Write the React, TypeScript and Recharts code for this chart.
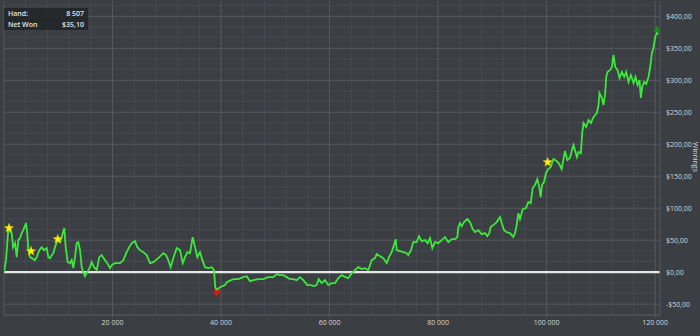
import {
  ComposedChart,
  Line,
  Scatter,
  XAxis,
  YAxis,
  ReferenceLine,
} from "recharts";

// hands played (x) and net winnings in $ (y)
const hands = [
  0, 370, 790, 1420, 1660, 2030, 2340, 2640, 2950, 3260,
  3560, 4060, 4290, 4480, 4790, 5110, 5710, 6030, 6510, 6950,
  7370, 7870, 8170, 8480, 8790, 9090, 9400, 9900, 10320, 10630,
  11110, 11370, 11740, 12160, 12480, 12770, 13090, 13400, 13690, 14010,
  14320, 14620, 14930, 15350, 15850, 16160, 16590, 17090, 17560, 18010,
  18610, 19040, 19540, 19850, 20460, 21380, 21990, 22610, 23090, 23540,
  24140, 24570, 25070, 25670, 26300, 26910, 27520, 28440, 29360, 29860,
  30280, 30720, 31200, 31830, 32440, 32940, 33360, 33780, 34280, 34780,
  35200, 35630, 36120, 36440, 37040, 37650, 38280, 38700, 38940, 39200,
  39810, 40730, 41040, 42260, 43180, 44100, 44730, 45340, 45950, 46870,
  47790, 48710, 49630, 50260, 50870, 51480, 52100, 52710, 53320, 53950,
  54550, 55160, 55900, 56530, 57130, 57630, 58000, 58550, 59160, 59770,
  60400, 61000, 61610, 62240, 62850, 63450, 64080, 64690, 65300, 65920,
  66530, 67140, 67770, 68380, 68690, 69300, 69910, 70530, 70960, 71450,
  71750, 72190, 72380, 72980, 73590, 74220, 74510, 75010, 75430, 76060,
  76490, 76980, 77590, 78090, 78510, 78940, 79430, 80040, 80670, 81280,
  81880, 82510, 83120, 83540, 83730, 84040, 84350, 84780, 85390, 85880,
  86380, 86810, 87410, 88040, 88650, 89070, 89440, 89700, 90180, 90810,
  91410, 91730, 92150, 92650, 93260, 93860, 94180, 94490, 94790, 95100,
  95600, 96210, 96630, 97070, 97440, 97860, 98290, 98660, 98910, 99150,
  99520, 99890, 100310, 100760, 101240, 101860, 102340, 102780, 103080, 103390,
  103820, 104310, 104670, 104960, 105590, 105880, 106320, 106560, 106800, 107300,
  107730, 108170, 108650, 109270, 109570, 109750, 110190, 110490, 110800, 110990,
  111230, 111720, 112040, 112330, 112650, 113070, 113440, 113880, 114300, 114670,
  115100, 115540, 116020, 116390, 116760, 117120, 117380, 117620, 117990, 118360,
  118780, 119100, 119410, 119700, 120020, 120330, 120630,
];

const won = [
  0, 18.8, 65.7, 61.0, 39.1, 45.4, 23.5, 50.1, 53.2, 61.0,
  65.7, 76.7, 61.0, 34.4, 23.5, 21.9, 18.8, 23.5, 34.4, 39.1,
  34.4, 37.6, 23.5, 21.9, 26.6, 29.7, 39.1, 50.1, 47.0, 54.8,
  68.9, 39.1, 15.7, 14.1, 18.8, 6.3, 23.5, 45.4, 47.0, 34.4,
  7.8, 0, -6.3, 0, 7.8, 15.7, 7.8, 3.1, 23.5, 26.6,
  18.8, 14.1, 6.3, 11.0, 14.1, 14.1, 18.8, 31.3, 39.1, 45.4,
  48.5, 39.1, 34.4, 31.3, 26.6, 14.1, 15.7, 21.9, 29.7, 26.6,
  18.8, 7.8, 21.9, 37.6, 34.4, 14.1, 23.5, 31.3, 29.7, 54.8,
  39.1, 23.5, 31.3, 21.9, 7.8, 6.3, 7.8, 3.1, -23.5, -28.2,
  -23.5, -20.3, -15.7, -11.0, -11.0, -7.8, -6.3, -14.1, -12.5, -11.0,
  -11.0, -7.8, -7.8, -3.1, -4.7, -4.7, -7.8, -11.0, -11.0, -12.5,
  -7.8, -12.5, -20.3, -20.3, -21.9, -20.3, -11.0, -17.2, -12.5, -20.3,
  -17.2, -17.2, -9.4, -4.7, -7.4, -9.4, -1.6, 3.1, 7.8, 4.7,
  6.3, 3.1, 18.8, 21.9, 28.2, 25.0, 21.9, 14.1, 23.5, 31.3,
  39.1, 51.6, 34.4, 32.9, 31.3, 29.7, 26.6, 34.4, 47.0, 47.0,
  56.3, 48.5, 50.1, 45.4, 53.2, 37.6, 47.0, 45.4, 50.1, 54.8,
  47.0, 51.6, 51.6, 54.8, 70.4, 76.7, 72.0, 78.3, 82.9, 78.3,
  67.3, 62.6, 65.7, 59.5, 61.0, 56.3, 61.0, 70.4, 73.6, 78.3,
  86.1, 76.7, 65.7, 62.6, 61.0, 54.8, 61.0, 73.6, 92.3, 82.9,
  98.6, 100.2, 109.6, 108.0, 131.5, 136.2, 145.5, 133.0, 117.4, 136.2,
  140.9, 154.9, 161.2, 164.3, 176.8, 173.7, 169.0, 161.2, 175.3, 189.4,
  175.3, 178.4, 190.9, 198.8, 180.0, 187.8, 186.2, 217.5, 233.2, 226.9,
  237.9, 233.2, 242.6, 248.8, 261.4, 280.1, 272.3, 261.4, 280.1, 305.2,
  313.0, 316.1, 320.8, 339.6, 320.8, 316.1, 303.6, 313.0, 305.2, 313.0,
  297.4, 308.3, 295.8, 305.2, 292.7, 300.5, 272.3, 289.5, 297.4, 294.2,
  305.2, 320.8, 342.7, 350.6, 367.8, 374.0, 372.5,
];

// star markers (big hands)
const starHands = [920, 4980, 9900, 100200];
const starWon = [68.9, 32.9, 51.6, 172];

const lowPoint = { hand: 39200, won: -28.2 };
const highPoint = { hand: 120330, won: 374.0 };

const xTicks = [20000, 40000, 60000, 80000, 100000, 120000];
const yTicks = [-50, 0, 50, 100, 150, 200, 250, 300, 350, 400];

const data = hands.map((h, i) => ({ hand: h, won: won[i] }));
const stars = starHands.map((h, i) => ({ hand: h, won: starWon[i] }));

const BG = "#3b3e42";
const MAJOR = "#565a5f";
const MINOR = "#474a4f";
const TEXT = "#d4d6d9";
const FONT = "'Open Sans', 'Liberation Sans', sans-serif";

const minorX: number[] = [];
for (let v = 4000; v < 121000; v += 4000) if (v % 20000 !== 0) minorX.push(v);
const minorY: number[] = [];
for (let k = -4; k <= 25; k++) if (k % 3 !== 0) minorY.push((k * 50) / 3);

const fmtHands = (v: number) =>
  String(v).replace(/\B(?=(\d{3})+(?!\d))/g, " ");
const fmtMoney = (v: number) =>
  (v < 0 ? "-$" : "$") + Math.abs(v).toFixed(2).replace(".", ",");

function Star(props: any) {
  const { cx, cy } = props;
  if (cx == null || cy == null) return null;
  const pts: string[] = [];
  for (let i = 0; i < 10; i++) {
    const r = i % 2 === 0 ? 5 : 2.1;
    const a = -Math.PI / 2 + (i * Math.PI) / 5;
    pts.push(`${cx + r * Math.cos(a)},${cy + r * Math.sin(a)}`);
  }
  return <polygon points={pts.join(" ")} fill="#fff200" stroke="#c8b400" strokeWidth={0.4} />;
}

function DownTri(props: any) {
  const { cx, cy } = props;
  if (cx == null || cy == null) return null;
  return (
    <polygon
      points={`${cx - 4},${cy} ${cx + 4},${cy} ${cx},${cy + 7}`}
      fill="#e81010"
    />
  );
}

function UpTri(props: any) {
  const { cx, cy } = props;
  if (cx == null || cy == null) return null;
  return (
    <polygon
      points={`${cx - 3.5},${cy - 1} ${cx + 3.5},${cy - 1} ${cx},${cy - 8}`}
      fill="#1c8a1c"
    />
  );
}

export default function App() {
  return (
    <div
      style={{
        position: "fixed",
        left: 0,
        top: 0,
        width: 700,
        height: 336,
        background: BG,
        fontFamily: FONT,
        overflow: "hidden",
      }}
    >
      <ComposedChart
        width={700}
        height={336}
        data={data}
        margin={{ top: 1, right: 0, left: 4, bottom: 0 }}
      >
        <XAxis
          dataKey="hand"
          type="number"
          domain={[0, 120900]}
          ticks={xTicks}
          tickFormatter={fmtHands}
          tick={{ fill: TEXT, fontSize: 7, fontFamily: FONT }}
          axisLine={{ stroke: MAJOR }}
          tickLine={{ stroke: MAJOR }}
          tickSize={3}
          tickMargin={2}
          height={21}
          allowDataOverflow
        />
        <YAxis
          orientation="right"
          type="number"
          domain={[-67, 424]}
          ticks={yTicks}
          tickFormatter={fmtMoney}
          tick={{ fill: TEXT, fontSize: 7, fontFamily: FONT, textAnchor: "start" }}
          axisLine={{ stroke: MAJOR }}
          tickLine={false}
          tickSize={2}
          tickMargin={4}
          width={40}
          allowDataOverflow
        />
        {minorX.map((v) => (
          <ReferenceLine key={"mx" + v} x={v} stroke={MINOR} strokeWidth={1} />
        ))}
        {minorY.map((v) => (
          <ReferenceLine key={"my" + v} y={v} stroke={MINOR} strokeWidth={1} />
        ))}
        {xTicks.map((v) => (
          <ReferenceLine key={"Mx" + v} x={v} stroke={MAJOR} strokeWidth={1} />
        ))}
        {yTicks.map((v) => (
          <ReferenceLine key={"My" + v} y={v} stroke={MAJOR} strokeWidth={1} />
        ))}
        <ReferenceLine x={0} stroke={MAJOR} strokeWidth={1} />
        <ReferenceLine y={0} stroke="#e6e6e6" strokeWidth={2.4} />
        <Line
          type="linear"
          dataKey="won"
          stroke="#3ce83c"
          strokeWidth={1.8}
          dot={false}
          isAnimationActive={false}
        />
        <Scatter data={stars} dataKey="won" shape={<Star />} isAnimationActive={false} />
        <Scatter data={[lowPoint]} dataKey="won" shape={<DownTri />} isAnimationActive={false} />
        <Scatter data={[highPoint]} dataKey="won" shape={<UpTri />} isAnimationActive={false} />
      </ComposedChart>

      <div
        style={{
          position: "absolute",
          left: 4,
          top: 8,
          width: 84,
          height: 22,
          background: "rgba(34,36,39,0.85)",
          color: "#e2e2e2",
          fontSize: 7,
          fontWeight: 600,
          lineHeight: "11px",
          boxSizing: "border-box",
          padding: "0 4px",
        }}
      >
        <div style={{ display: "flex", justifyContent: "space-between" }}>
          <span>Hand:</span>
          <span>8 507</span>
        </div>
        <div style={{ display: "flex", justifyContent: "space-between" }}>
          <span>Net Won</span>
          <span>$35,10</span>
        </div>
      </div>

      <div
        style={{
          position: "absolute",
          left: 695,
          top: 157,
          color: TEXT,
          fontSize: 7,
          lineHeight: "8px",
          transform: "translate(-50%, -50%) rotate(90deg)",
          whiteSpace: "nowrap",
        }}
      >
        Winnings
      </div>
    </div>
  );
}
